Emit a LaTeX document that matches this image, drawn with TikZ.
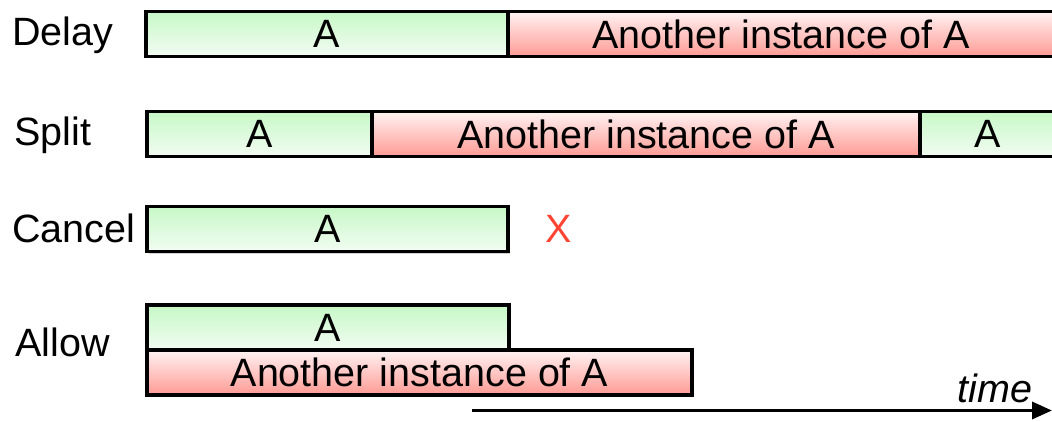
\documentclass[tikz,border=0pt]{standalone}
\usepackage{fontspec}
\setmainfont{Liberation Sans}
\usetikzlibrary{positioning, arrows.meta, shadows}

\definecolor{instgreen}{HTML}{C6F8C6}
\definecolor{instgreenlow}{HTML}{F3FCF3}
\definecolor{instred}{HTML}{FF9A94}
\definecolor{instredtop}{HTML}{FFF3F3}
\definecolor{cancelred}{HTML}{FF4433}

\begin{document}
\begin{tikzpicture}[%
		x=1pt, y=-1pt,
		font=\fontsize{39.5}{41}\selectfont,
		instance/.style={
			rectangle,
			line width=3.8pt,
			black,
			draw,
			inner sep=0pt,
			outer sep=0pt,
			minimum height=45pt,
			anchor=north west,
			drop shadow={shadow xshift=2pt, shadow yshift=-2pt, fill=black!18, opacity=1}
		},
		first/.style={
			instance,
			top color=instgreen,
			bottom color=instgreenlow
		},
		other/.style={
			instance,
			top color=instredtop,
			bottom color=instred
		},
		policy/.style={
			anchor=base west,
			inner sep=0pt
		},
		timearrow/.style={
			line width=3.5pt,
			-{Triangle[length=20pt, width=17pt]}
		}]

		\useasboundingbox (0,0) rectangle (1052,422);
		\clip (0,0) rectangle (1052,422);

		% DELAY
		
		\node (lbl-delay) [policy] at (12,46) {Delay};
		\node (A-delay) [first, minimum width=362pt] at (146,11.5) {A};
		\node (B-delay) [other, minimum width=546pt, right=0pt of A-delay] {Another instance of A};

		% SPLIT
		
		\node (lbl-split) [policy] at (14,146) {Split};
		\node (A-split) [first, minimum width=225pt] at (147,111.5) {A};
		\node (B-split) [other, minimum width=548pt, right=0pt of A-split] {Another instance of A};
		\node (C-split) [first, minimum width=136pt, right=0pt of B-split] {A};

		% CANCEL
		
		\node (lbl-cancel) [policy] at (12,242) {Cancel};
		\node (A-cancel) [first, minimum width=361pt] at (147,206.5) {A};
		\node (X-cancel) [right=37pt of A-cancel, inner sep=0pt, text=cancelred] {X};

		% ALLOW
		
		\node (lbl-allow) [policy] at (15,356) {Allow};
		\node (A-allow) [first, minimum width=362pt] at (147,305) {A};
		\node (B-allow) [other, minimum width=545pt, anchor=north west] at (A-allow.south west) {Another instance of A};

		% TIME LINE
		
		\coordinate (t0) at (472,410.5);
		\coordinate (t1) at (1052,410.5);
		\draw[timearrow] (t0) -- (t1);
		\node (lbl-time) [anchor=base, inner sep=0pt] at (995,402) {\itshape time};
\end{tikzpicture}
\end{document}
